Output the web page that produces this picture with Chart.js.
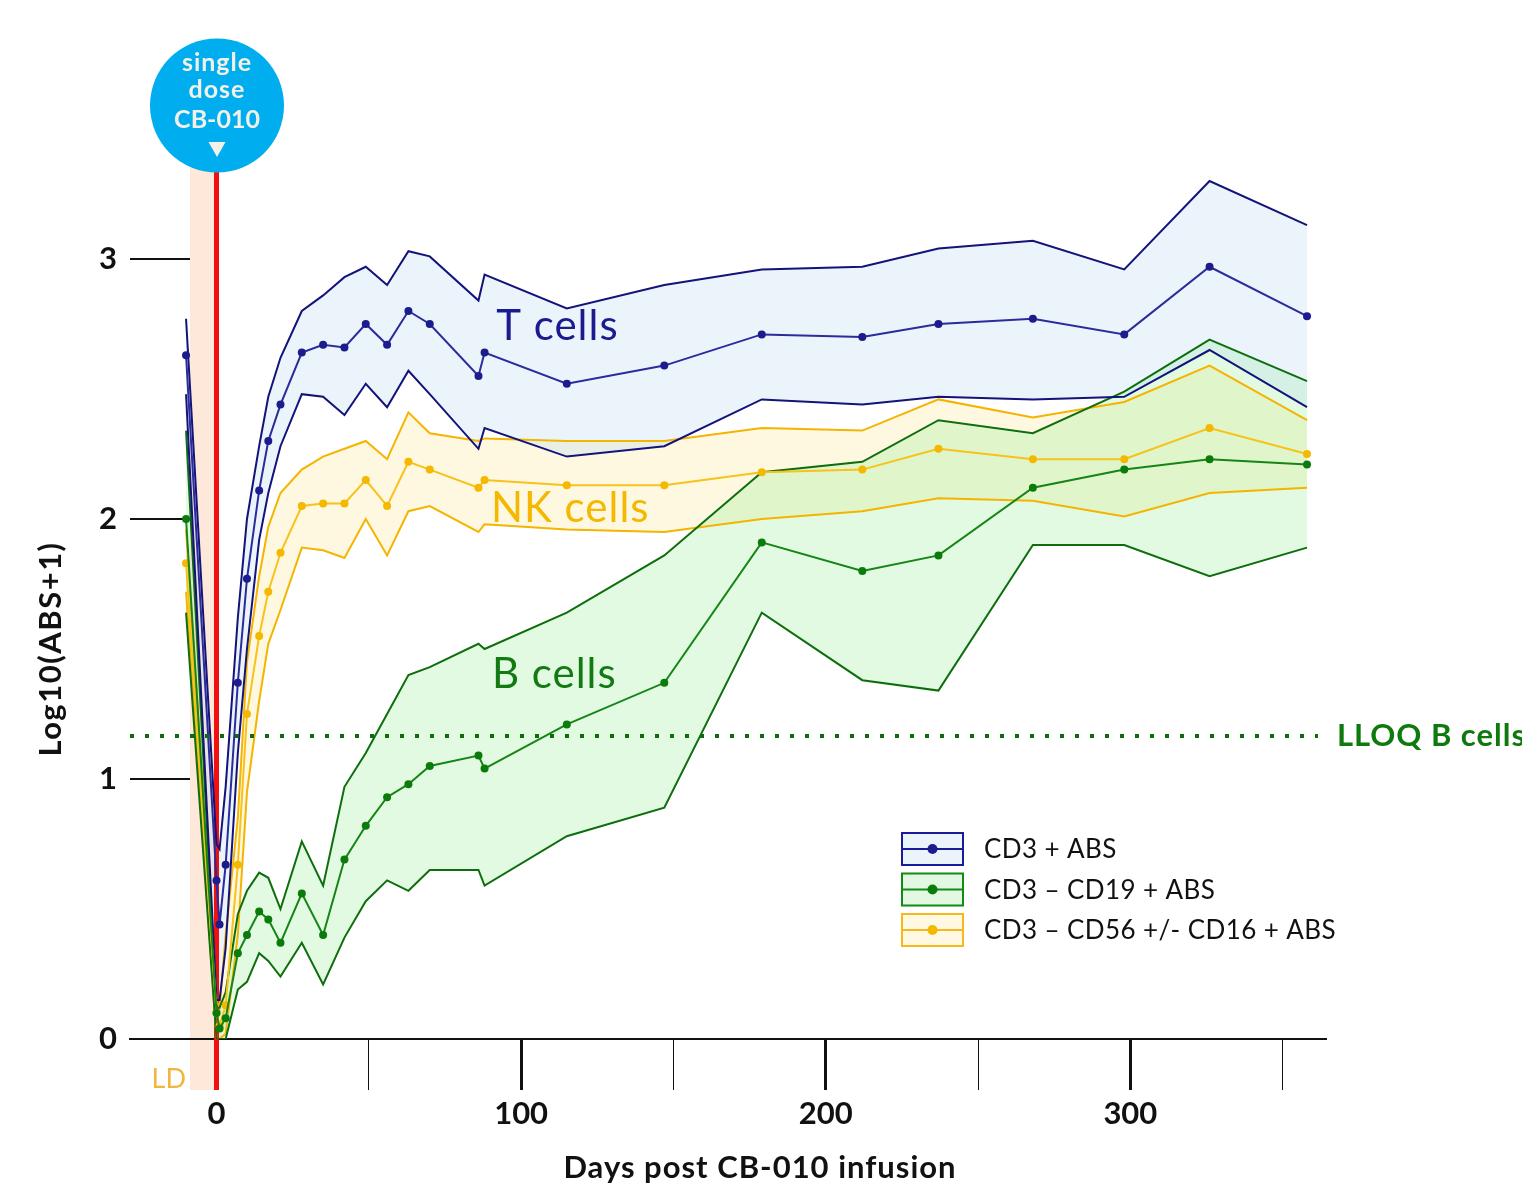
<!DOCTYPE html>
<html><head><meta charset="utf-8">
<script src="https://cdn.jsdelivr.net/npm/chart.js@4.4.1/dist/chart.umd.min.js"></script>
<style>html,body{margin:0;padding:0;background:#fff;}#wrap{position:relative;width:1522px;height:1191px;}</style>
</head><body><div id="wrap"><canvas id="c" width="1522" height="1191"></canvas></div>
<script>
// ---- data ----
const days = [-10, 0, 1, 3, 7, 10, 14, 17, 21, 28, 35, 42, 49, 56, 63, 70, 86, 88, 115, 147, 179, 212, 237, 268, 298, 326, 358];

const tMedian = [2.63, 0.61, 0.44, 0.67, 1.37, 1.77, 2.11, 2.30, 2.44, 2.64, 2.67, 2.66, 2.75, 2.67, 2.80, 2.75, 2.55, 2.64, 2.52, 2.59, 2.71, 2.70, 2.75, 2.77, 2.71, 2.97, 2.78];
const tUpper  = [2.77, 0.75, 0.73, 0.97, 1.62, 2.00, 2.28, 2.47, 2.62, 2.80, 2.86, 2.93, 2.97, 2.90, 3.03, 3.01, 2.84, 2.94, 2.81, 2.90, 2.96, 2.97, 3.04, 3.07, 2.96, 3.30, 3.13];
const tLower  = [2.48, 0.15, 0.15, 0.35, 1.10, 1.50, 1.92, 2.10, 2.28, 2.48, 2.47, 2.40, 2.52, 2.43, 2.57, 2.48, 2.27, 2.35, 2.24, 2.28, 2.46, 2.44, 2.47, 2.46, 2.47, 2.65, 2.43];

const nkMedian = [1.83, 0.10, 0.05, 0.13, 0.67, 1.25, 1.55, 1.72, 1.87, 2.05, 2.06, 2.06, 2.15, 2.05, 2.22, 2.19, 2.12, 2.15, 2.13, 2.13, 2.18, 2.19, 2.27, 2.23, 2.23, 2.35, 2.25];
const nkUpper  = [1.96, 0.15, 0.12, 0.40, 0.85, 1.45, 1.78, 1.97, 2.10, 2.19, 2.24, 2.27, 2.30, 2.23, 2.41, 2.33, 2.30, 2.31, 2.30, 2.30, 2.35, 2.34, 2.46, 2.39, 2.45, 2.59, 2.38];
const nkLower  = [1.72, 0.00, 0.00, 0.02, 0.40, 0.95, 1.30, 1.52, 1.65, 1.89, 1.88, 1.85, 2.00, 1.86, 2.03, 2.05, 1.95, 1.98, 1.96, 1.95, 2.00, 2.03, 2.08, 2.07, 2.01, 2.10, 2.12];

const bMedian = [2.00, 0.10, 0.04, 0.08, 0.33, 0.40, 0.49, 0.46, 0.37, 0.56, 0.40, 0.69, 0.82, 0.93, 0.98, 1.05, 1.09, 1.04, 1.21, 1.37, 1.91, 1.80, 1.86, 2.12, 2.19, 2.23, 2.21];
const bUpper  = [2.34, 0.12, 0.12, 0.18, 0.48, 0.57, 0.64, 0.62, 0.50, 0.76, 0.59, 0.97, 1.10, 1.25, 1.40, 1.43, 1.52, 1.50, 1.64, 1.86, 2.18, 2.22, 2.38, 2.33, 2.49, 2.69, 2.53];
const bLower  = [1.64, 0.00, 0.00, 0.00, 0.19, 0.22, 0.33, 0.30, 0.24, 0.37, 0.21, 0.39, 0.53, 0.61, 0.57, 0.65, 0.65, 0.59, 0.78, 0.89, 1.64, 1.38, 1.34, 1.90, 1.90, 1.78, 1.89];

const lloqB = 1.165;
const xTickLabels = [0, 100, 200, 300];
const yTickValues = [0, 1, 2, 3];
const seriesNames = ['CD3 + ABS', 'CD3 \u2013 CD19 + ABS', 'CD3 \u2013 CD56 +/- CD16 + ABS'];
const groupNames = ['T cells', 'NK cells', 'B cells'];
const ldWindow = [-8.7, -0.8];
const doseDay = 0;

// ---- styles ----
const FONT = 'Lato';
const groups = [
  {name: groupNames[0], legend: seriesNames[0], med: tMedian, up: tUpper, lo: tLower,
   band: '#13137a', line: '#2b2b9c', pt: '#1c1c8c', fill: 'rgba(186,220,240,0.30)', box: '#eaf4fa', boxBorder: '#1a1a9a',
   label: {x: 91.8, y: 2.688, color: '#1b1b8f'}},
  {name: groupNames[2], legend: seriesNames[1], med: bMedian, up: bUpper, lo: bLower,
   band: '#0e6e0e', line: '#168516', pt: '#0b7b0b', fill: 'rgba(140,235,140,0.26)', box: '#e2f8e2', boxBorder: '#138a13',
   label: {x: 90.4, y: 1.35, color: '#137a13'}},
  {name: groupNames[1], legend: seriesNames[2], med: nkMedian, up: nkUpper, lo: nkLower,
   band: '#f4b400', line: '#f7c21a', pt: '#f5b800', fill: 'rgba(255,228,140,0.26)', box: '#fff8e3', boxBorder: '#f9b81a',
   label: {x: 90.1, y: 1.988, color: '#f5b800'}}
];

const pts = arr => days.map((d, i) => ({x: d, y: arr[i]}));
const datasets = [];
groups.forEach(g => {
  const base = datasets.length;
  datasets.push({label: g.name + ' upper', data: pts(g.up), borderColor: g.band, borderWidth: 2, pointRadius: 0,
    fill: {target: base + 1}, backgroundColor: g.fill, order: 2, tension: 0});
  datasets.push({label: g.name + ' lower', data: pts(g.lo), borderColor: g.band, borderWidth: 2, pointRadius: 0,
    fill: false, order: 2, tension: 0});
  datasets.push({label: g.legend, data: pts(g.med), borderColor: g.line, borderWidth: 2, pointRadius: 4,
    pointBackgroundColor: g.pt, pointBorderWidth: 0, fill: false, order: 1, tension: 0});
});
datasets.push({label: 'LLOQ B cells', data: [{x: -28.4, y: lloqB}, {x: 361.6, y: lloqB}], borderColor: '#0d6d0d',
  borderWidth: 4, borderDash: [4, 11], borderCapStyle: 'butt', pointRadius: 0, fill: false, order: 0, clip: false});

function setSpacing(ctx, v) { if ('letterSpacing' in ctx) ctx.letterSpacing = v; }

const decor = {
  id: 'decor',
  beforeDraw(chart) {
    const {ctx, scales: {x}, chartArea: ca} = chart;
    ctx.save();
    ctx.fillStyle = '#fde8da';
    const x0 = x.getPixelForValue(ldWindow[0]), x1 = x.getPixelForValue(ldWindow[1]);
    ctx.fillRect(x0, 168, x1 - x0, ca.bottom + 51 - 168);
    ctx.restore();
  },
  beforeDatasetsDraw(chart) {
    const {ctx, scales: {x, y}, chartArea: ca} = chart;
    ctx.save();
    ctx.strokeStyle = '#111';
    ctx.lineWidth = 2;
    yTickValues.forEach(v => {
      const py = Math.round(y.getPixelForValue(v));
      ctx.beginPath(); ctx.moveTo(ca.left, py); ctx.lineTo(ca.left + 60, py); ctx.stroke();
    });
    const px = x.getPixelForValue(doseDay);
    ctx.strokeStyle = '#f01010';
    ctx.lineWidth = 5;
    ctx.beginPath(); ctx.moveTo(px, 168); ctx.lineTo(px, ca.bottom + 51); ctx.stroke();
    ctx.restore();
  },
  afterDraw(chart) {
    const {ctx, scales: {x, y}, chartArea: ca} = chart;
    ctx.save();
    ctx.textBaseline = 'alphabetic';
    ctx.textAlign = 'left';
    // group labels
    ctx.font = `42px ${FONT}`;
    setSpacing(ctx, '1px');
    groups.forEach(g => {
      ctx.fillStyle = g.label.color;
      ctx.fillText(g.name, x.getPixelForValue(g.label.x), y.getPixelForValue(g.label.y));
    });
    // LLOQ label
    ctx.font = `bold 31px ${FONT}`;
    ctx.fillStyle = '#0e7a0e';
    ctx.fillText('LLOQ B cells', x.getPixelForValue(367.8), y.getPixelForValue(lloqB) + 10);
    // LD label
    setSpacing(ctx, '0px');
    ctx.font = `27px ${FONT}`;
    ctx.fillStyle = '#f2b53e';
    ctx.textAlign = 'right';
    ctx.fillText('LD', x.getPixelForValue(ldWindow[0]) - 4, ca.bottom + 49);
    // badge
    const bx = x.getPixelForValue(doseDay) + 0.5;
    ctx.fillStyle = '#00aeef';
    ctx.beginPath(); ctx.arc(bx, 105.5, 67, 0, Math.PI * 2); ctx.fill();
    ctx.fillStyle = '#f3f0e8';
    ctx.textAlign = 'center';
    ctx.font = `bold 25px ${FONT}`;
    setSpacing(ctx, '1px');
    ctx.fillText('single', bx, 71);
    ctx.fillText('dose', bx, 98);
    setSpacing(ctx, '0px');
    ctx.fillText('CB-010', bx, 128);
    ctx.beginPath(); ctx.moveTo(bx - 8.5, 142); ctx.lineTo(bx + 8.5, 142); ctx.lineTo(bx, 157); ctx.closePath(); ctx.fill();
    // axis titles
    ctx.fillStyle = '#111';
    ctx.font = `bold 31px ${FONT}`;
    ctx.textBaseline = 'middle';
    setSpacing(ctx, '1px');
    ctx.fillText('Days post CB-010 infusion', 760, 1168);
    setSpacing(ctx, '1.5px');
    ctx.translate(51, 649); ctx.rotate(-Math.PI / 2);
    ctx.fillText('Log10(ABS+1)', 0, 0);
    ctx.setTransform(1, 0, 0, 1, 0, 0);
    // legend
    ctx.textAlign = 'left';
    ctx.font = `26px ${FONT}`;
    setSpacing(ctx, '0.4px');
    groups.forEach((g, i) => {
      const top = 833 + i * 40.5;
      ctx.fillStyle = g.box;
      ctx.fillRect(902, top, 61, 32);
      ctx.strokeStyle = g.boxBorder; ctx.lineWidth = 2;
      ctx.strokeRect(902, top, 61, 32);
      ctx.beginPath(); ctx.moveTo(902, top + 16); ctx.lineTo(963, top + 16); ctx.stroke();
      ctx.fillStyle = g.pt;
      ctx.beginPath(); ctx.arc(932.5, top + 16, 5, 0, Math.PI * 2); ctx.fill();
      ctx.fillStyle = '#111';
      ctx.fillText(g.legend, 984, top + 17);
    });
    ctx.restore();
  }
};

new Chart(document.getElementById('c'), {
  type: 'line',
  data: {datasets},
  options: {
    responsive: false, animation: false, devicePixelRatio: 1,
    layout: {padding: {top: 168, right: 197, left: 0, bottom: 0}},
    plugins: {legend: {display: false}, tooltip: {enabled: false}, filler: {drawTime: 'beforeDatasetsDraw'}},
    scales: {
      x: {
        type: 'linear', min: -28.4, max: 363.9,
        afterFit: s => { s.height = 152; },
        afterBuildTicks: s => { s.ticks = s.ticks.filter(t => t.value % 50 === 0); },
        ticks: {stepSize: 50, includeBounds: false, padding: 5, color: '#111', font: {family: FONT, size: 31, weight: 'bold'},
          callback: v => xTickLabels.includes(v) ? String(v) : '', maxRotation: 0, autoSkip: false},
        grid: {display: true, drawOnChartArea: false, drawTicks: true, tickLength: 51, color: '#111',
          lineWidth: c => (c.tick && c.tick.value % 100 === 0) ? 3 : 1},
        border: {display: true, color: '#111', width: 2}
      },
      y: {
        min: 0, max: 3.35,
        afterFit: s => { s.width = 130; },
        afterBuildTicks: s => { s.ticks = s.ticks.filter(t => yTickValues.includes(t.value)); },
        ticks: {stepSize: 1, includeBounds: false, padding: 13, color: '#111', font: {family: FONT, size: 31, weight: 'bold'}},
        grid: {display: false, drawTicks: false},
        border: {display: false}
      }
    }
  },
  plugins: [decor]
});
</script></body></html>
